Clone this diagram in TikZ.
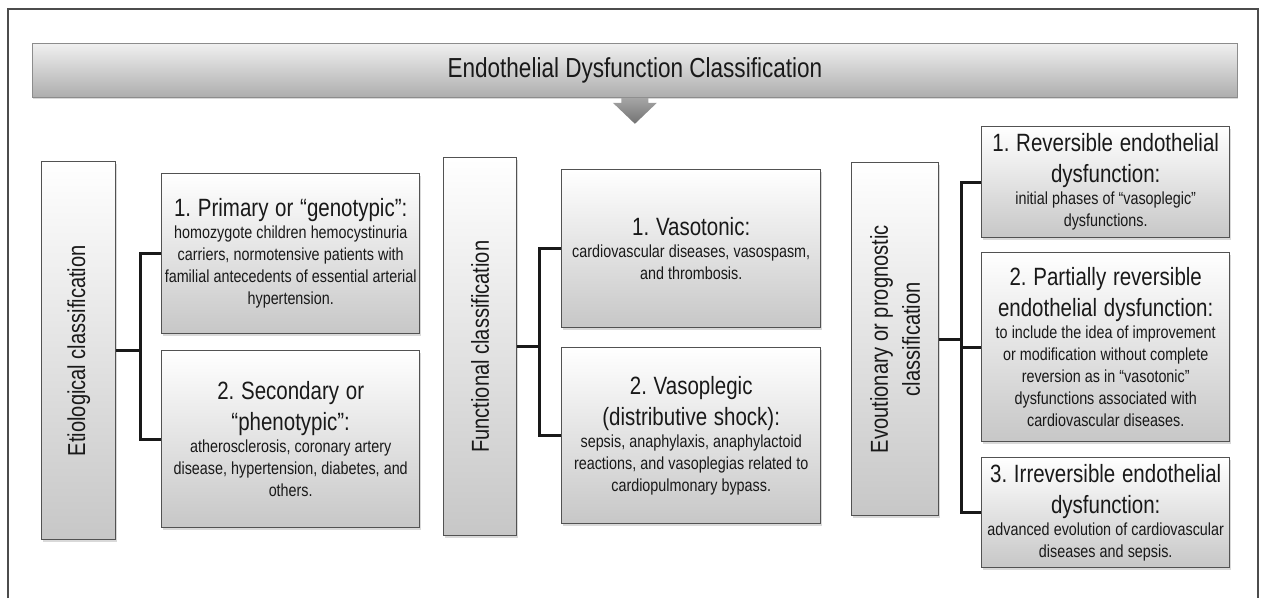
\documentclass[tikz,border=0pt]{standalone}
\usepackage{fontspec}
\setmainfont{Liberation Sans}[FakeStretch=0.82]
\usetikzlibrary{shadows,calc}
\newcommand\hdfont{\fontsize{25}{31}\selectfont\spaceskip=0.27em\relax\xspaceskip=0.27em\relax}
\newcommand\bdfont{\fontsize{17.5}{22}\selectfont\spaceskip=0.235em\relax\xspaceskip=0.235em\relax}
\newcommand\lbfont{\fontsize{24.5}{32}\selectfont}
\newcommand\ttfontx{\fontsize{27.5}{30}\selectfont}
\tikzset{
  frameline/.style={draw=black!70, line width=1.2pt},
  box/.style={draw=black!68, line width=1.4pt, top color=white, bottom color=black!22,
    drop shadow={shadow xshift=1.5pt, shadow yshift=-2pt, opacity=0.3},
    inner xsep=0pt, inner ysep=0pt, align=center, anchor=north west, text=black!90},
  bx/.style 2 args={minimum width=#1, text width=#1, minimum height=#2},
  banner/.style={draw=black!45, line width=0.8pt, top color=black!6, bottom color=black!32,
    drop shadow={shadow xshift=1pt, shadow yshift=-2pt, opacity=0.3},
    anchor=north west, inner sep=0pt, minimum width=1205pt, minimum height=54pt},
  vlabel/.style={rotate=90, align=center, inner sep=0pt, font=\lbfont, text=black!90},
  link/.style={line width=3pt, black!90}
}
\begin{document}
\begin{tikzpicture}[x=1pt,y=-1pt]
\useasboundingbox (0,0) rectangle (1264,598);
\draw[frameline] (8,598) -- (8,9) -- (1258,9) -- (1258,598);

% banner
\node[banner] (ban) at (32,43) {};
\node[font=\ttfontx, text=black!90] (title) at (ban.center) {Endothelial Dysfunction Classification};
\shade[top color=black!35, bottom color=black!55]
  ($(ban.south)+(-13.5,0)$) -- ++(0,5) -- ++(-8.5,0) -- ($(ban.south)+(0,26)$)
  -- ($(ban.south)+(22,5)$) -- ++(-8.5,0) -- ++(0,-5) -- cycle;

% etiological
\node[box, bx={74pt}{378pt}] (Et) at (41,161) {};
\node[vlabel] (EtL) at (Et.center) {Etiological classification};
\node[box, bx={258pt}{160pt}] (E1) at (161,173) {\hdfont 1. Primary or “genotypic”:\\
  \bdfont homozygote children hemocystinuria\\ carriers, normotensive patients with\\ familial antecedents of essential arterial\\ hypertension.\par};
\node[box, bx={258pt}{177pt}] (E2) at (161,350) {\hdfont 2. Secondary or\\ “phenotypic”:\\
  \bdfont atherosclerosis, coronary artery\\ disease, hypertension, diabetes, and\\ others.\par};

% functional
\node[box, bx={73pt}{378pt}] (Fn) at (443,157) {};
\node[vlabel] (FnL) at (Fn.center) {Functional classification};
\node[box, bx={259pt}{158pt}] (F1) at (561,169) {\hdfont 1. Vasotonic:\\
  \bdfont cardiovascular diseases, vasospasm,\\ and thrombosis.\par};
\node[box, bx={259pt}{176pt}] (F2) at (561,347) {\hdfont 2. Vasoplegic\\ (distributive shock):\\
  \bdfont sepsis, anaphylaxis, anaphylactoid\\ reactions, and vasoplegias related to\\ cardiopulmonary bypass.\par};

% evolutionary
\node[box, bx={87pt}{353pt}] (Ev) at (851,162) {};
\node[vlabel] (EvL) at (Ev.center) {Evoutionary or prognostic\\ classification};
\node[box, bx={248pt}{111pt}] (R1) at (981,126) {\hdfont 1. Reversible endothelial\\ dysfunction:\\
  \bdfont initial phases of “vasoplegic”\\ dysfunctions.\par};
\node[box, bx={248pt}{189pt}] (R2) at (981,252) {\hdfont 2. Partially reversible\\ endothelial dysfunction:\\
  \bdfont to include the idea of improvement\\ or modification without complete\\ reversion as in “vasotonic”\\ dysfunctions associated with\\ cardiovascular diseases.\par};
\node[box, bx={248pt}{110pt}] (R3) at (981,457) {\hdfont 3. Irreversible endothelial\\ dysfunction:\\
  \bdfont advanced evolution of cardiovascular\\ diseases and sepsis.\par};

% connectors
\coordinate (ej) at ($(Et.east)+(24,0)$);
\draw[link] (Et.east) -- (ej);
\draw[link] (E1.west) -| (ej) |- (E2.west);

\coordinate (fj) at ($(Fn.east)+(22,0)$);
\draw[link] (Fn.east) -- (fj);
\draw[link] (F1.west) -| (fj) |- (F2.west);

\coordinate (vj) at ($(Ev.east)+(22,0)$);
\draw[link] (Ev.east) -- (vj);
\draw[link] (R1.west) -| (vj) |- (R3.west);
\draw[link] (vj |- R2.west) -- (R2.west);
\end{tikzpicture}
\end{document}
